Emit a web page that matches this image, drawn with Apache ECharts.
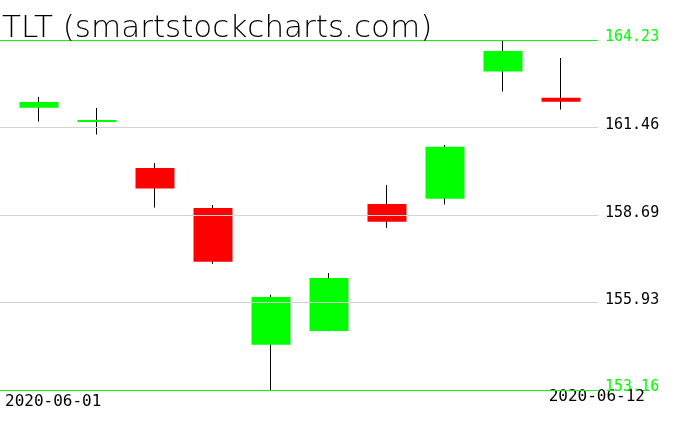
<!DOCTYPE html>
<html>
<head>
<meta charset="utf-8">
<script src="https://cdn.jsdelivr.net/npm/echarts@6/dist/echarts.min.js"></script>
<style>html,body{margin:0;padding:0;background:#fff}#c{width:676px;height:431px}</style>
</head>
<body>
<div id="c"></div>
<script>
var titleText = 'TLT (smartstockcharts.com)';
var categories = ['2020-06-01','2020-06-02','2020-06-03','2020-06-04','2020-06-05','2020-06-08','2020-06-09','2020-06-10','2020-06-11','2020-06-12'];
var opens  = [162.09, 161.64, 160.18, 158.92, 154.59, 155.03, 159.04, 159.21, 163.23, 162.40];
var closes = [162.27, 161.70, 159.53, 157.22, 156.10, 156.70, 158.48, 160.85, 163.88, 162.28];
var lows   = [161.65, 161.24, 158.93, 157.15, 153.16, 155.02, 158.29, 159.03, 162.60, 162.03];
var highs  = [162.43, 162.08, 160.34, 159.01, 156.17, 156.86, 159.64, 160.91, 164.23, 163.66];
var tickValues = [153.16, 155.93, 158.69, 161.46, 164.23];
var tickLabels = ['153.16', '155.93', '158.69', '161.46', '164.23'];

var GREEN = '#00ff00', RED = '#ff0000', GRAY = '#d3d3d3';
var yMin = tickValues[0], yMax = tickValues[tickValues.length - 1];

var wickData = categories.map(function (c, i) { return [opens[i], closes[i], lows[i], highs[i]]; });
var bodyData = categories.map(function (c, i) {
  return [opens[i], closes[i], Math.min(opens[i], closes[i]), Math.max(opens[i], closes[i])];
});

var markData = tickValues.map(function (v, i) {
  var edge = (i === 0 || i === tickValues.length - 1);
  return {
    yAxis: v,
    lineStyle: { color: edge ? GREEN : GRAY, width: 1, type: 'solid' },
    label: {
      show: true, position: 'end', distance: 7,
      formatter: tickLabels[i],
      color: edge ? GREEN : '#000',
      fontFamily: 'DejaVu Sans Mono', fontSize: 15,
      verticalAlign: 'bottom',
      offset: [0, 5]
    }
  };
});

var chart = echarts.init(document.getElementById('c'), null, { renderer: 'canvas' });
chart.setOption({
  animation: false,
  backgroundColor: '#fff',
  title: {
    text: titleText, left: 2, top: 13, padding: 0,
    textStyle: { fontFamily: 'DejaVu Sans', fontWeight: 200, fontSize: 31, color: '#000' }
  },
  grid: [
    { left: 0, right: 78, top: 40, bottom: 41 },
    { left: 10, width: 580, top: 40, bottom: 41 }
  ],
  xAxis: [
    { type: 'value', gridIndex: 0, min: 0, max: 1, show: false },
    { type: 'category', gridIndex: 1, data: categories, boundaryGap: true, show: false }
  ],
  yAxis: [
    { type: 'value', gridIndex: 0, min: yMin, max: yMax, show: false, splitLine: { show: false } },
    { type: 'value', gridIndex: 1, min: yMin, max: yMax, show: false, splitLine: { show: false } }
  ],
  graphic: [
    { type: 'text', left: 5, top: 394, silent: true,
      style: { text: categories[0], fontFamily: 'DejaVu Sans Mono', fontSize: 16, fill: '#000' } },
    { type: 'text', right: 31, top: 389, silent: true,
      style: { text: categories[categories.length - 1], fontFamily: 'DejaVu Sans Mono', fontSize: 16, fill: '#000' } }
  ],
  series: [
    {
      type: 'line', xAxisIndex: 0, yAxisIndex: 0, data: [], silent: true, z: 1,
      markLine: { silent: true, symbol: ['none', 'none'], animation: false, data: markData }
    },
    {
      name: 'wick', type: 'candlestick', xAxisIndex: 1, yAxisIndex: 1, z: 2,
      barWidth: 1, data: wickData, silent: true,
      itemStyle: { color: '#000', color0: '#000', borderColor: '#000', borderColor0: '#000', borderColorDoji: '#000', borderWidth: 1 }
    },
    {
      name: 'body', type: 'candlestick', xAxisIndex: 1, yAxisIndex: 1, z: 3,
      barWidth: 40, data: bodyData, silent: true,
      itemStyle: { color: GREEN, color0: RED, borderColor: GREEN, borderColor0: RED, borderWidth: 0 }
    }
  ]
});
</script>
</body>
</html>
